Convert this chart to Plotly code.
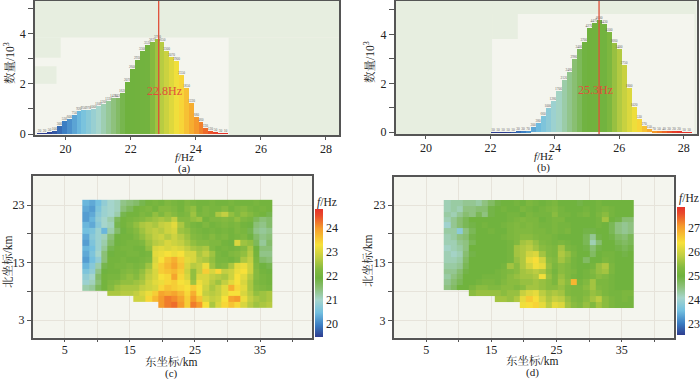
import plotly.graph_objects as go

W, H = 700, 379
N = None

# ---------- histograms (counts in 10^3) ----------
a_start, a_width = 19.21, 0.15
a_counts = [.02,.02,.05,.1,.3,.53,.6,.75,.92,.95,.97,1.0,1.1,1.2,1.33,1.42,1.42,1.62,2.07,2.6,
            2.93,3.3,3.53,3.67,3.78,3.65,3.3,3.07,2.9,2.35,1.85,1.22,.68,.46,.22,.12,.05,.03,.01]
b_start, b_width = 22.09, 0.156
b_counts = [.01,.01,.01,.01,.01,.03,.03,.07,.2,.38,.66,1.0,1.28,1.7,2.12,2.48,2.98,3.4,3.7,4.27,
            4.47,4.6,4.43,4.1,3.66,3.4,2.75,1.8,1.02,.53,.27,.15,.07,.05,.04,.03,.02,.02,.01,.01]
a_peak, b_peak = 22.86, 25.37
a_cmin, a_cmax = 19.46, 24.8
b_cmin, b_cmax = 22.51, 27.87

# ---------- maps: rows from north to south ----------
map_x = [8.2,9.2,10.1,11.1,12.1,13.0,14.0,15.0,16.0,16.9,17.9,18.9,19.9,20.8,21.8,22.8,23.8,24.7,25.7,26.7,27.7,28.6,29.6,30.6,31.5,32.5,33.5,34.5,35.4,36.4]
map_y = [23.4,22.4,21.4,20.5,19.5,18.5,17.5,16.5,15.5,14.5,13.5,12.5,11.5,10.6,9.6,8.7,7.7,6.7,5.7]

c_z = [
[20.4,20.3,20.5,20.8,21.0,21.1,21.4,21.5,21.6,21.8,22.0,22.1,22.0,22.2,22.1,22.0,22.2,22.1,22.0,22.0,22.1,22.0,22.0,22.1,22.0,22.0,22.0,22.1,22.0,22.0],
[20.3,20.2,20.6,20.9,21.0,21.1,21.5,21.7,22.0,22.1,22.2,22.0,22.3,22.3,22.2,22.0,22.3,22.4,22.0,22.2,22.1,22.1,22.3,22.0,22.2,22.3,22.1,22.0,22.1,22.0],
[20.2,20.3,20.7,20.9,21.0,21.2,21.8,22.0,22.0,22.2,22.1,22.4,22.2,22.4,22.3,22.1,22.2,22.5,22.1,22.2,22.1,22.6,22.8,22.4,22.2,22.4,22.3,22.1,22.0,21.8],
[20.2,20.4,20.8,21.0,21.2,21.7,22.0,22.1,22.2,22.3,22.4,22.5,22.6,22.5,22.8,22.3,22.3,22.4,22.5,22.0,22.2,22.2,22.3,22.2,22.4,22.2,22.1,21.7,21.5,21.6],
[20.4,20.3,20.7,21.0,21.1,21.8,22.0,22.2,22.4,22.6,22.7,22.6,22.8,22.9,23.1,22.6,22.3,22.1,22.0,22.2,22.0,22.1,22.2,22.1,22.2,22.0,21.9,21.5,21.4,21.6],
[20.5,20.6,20.9,20.4,21.2,21.6,21.9,22.1,22.3,22.5,22.7,22.8,22.7,22.9,23.0,22.5,22.4,22.2,22.1,22.0,22.1,22.0,22.1,22.0,22.2,22.1,21.8,21.4,21.3,21.4],
[20.3,20.7,20.9,21.1,21.5,21.9,22.0,22.0,22.2,22.4,22.6,22.8,22.9,22.7,22.9,22.7,22.5,22.3,22.2,22.1,22.3,22.1,22.2,22.0,22.1,22.2,21.9,21.6,21.4,21.5],
[20.2,20.6,20.9,21.2,21.6,21.9,22.0,22.1,22.1,22.2,22.5,22.7,22.8,23.0,22.9,22.8,22.6,22.4,22.3,22.3,22.2,22.2,22.0,21.9,23.0,22.5,22.4,21.7,21.3,21.6],
[20.4,20.5,20.9,21.3,21.8,22.0,22.1,22.1,22.0,22.0,22.4,23.0,23.1,23.0,23.1,23.0,22.8,22.6,22.5,22.6,22.2,22.0,22.1,22.0,22.1,22.3,22.6,21.9,21.5,21.5],
[20.3,20.6,21.0,21.5,21.9,22.0,22.0,22.1,22.1,22.0,22.1,23.1,23.2,23.3,23.2,23.3,23.0,23.0,22.6,22.8,22.5,22.1,22.0,22.2,22.3,22.4,22.7,22.0,21.4,21.4],
[20.2,20.5,20.8,21.5,22.0,22.0,22.1,22.0,22.0,22.1,22.2,23.0,23.3,23.6,23.8,23.5,23.1,23.0,22.7,22.6,22.4,22.1,22.1,22.0,22.2,22.6,22.8,22.1,21.6,21.5],
[20.4,20.7,21.2,21.8,22.0,22.1,22.1,22.2,22.1,22.2,22.5,23.1,23.5,23.7,23.9,23.6,23.0,22.7,22.8,23.2,22.5,22.2,22.3,22.6,23.1,23.2,22.9,22.2,21.9,21.8],
[20.6,20.8,21.4,21.9,22.0,22.0,22.2,22.3,22.2,22.4,22.7,23.0,23.5,23.6,23.7,23.5,22.9,22.4,22.8,23.5,23.0,23.4,22.8,22.9,23.2,23.3,22.9,22.3,22.0,21.9],
[20.8,21.0,21.6,22.0,22.1,22.1,22.3,22.4,22.3,22.5,22.8,23.0,23.3,23.4,23.9,23.4,23.0,22.4,23.0,23.0,22.8,22.7,22.6,22.9,23.3,23.1,22.7,22.3,22.1,22.0],
[20.9,21.1,21.5,22.0,22.2,22.3,22.4,22.4,22.5,22.6,22.9,23.1,23.2,23.4,23.5,23.3,23.2,22.5,23.2,23.0,22.7,22.5,22.8,23.1,23.3,23.0,22.6,22.2,22.1,22.0],
[21.2,21.3,21.7,22.0,22.3,22.5,22.6,22.6,22.6,22.8,22.9,23.0,23.4,23.6,23.5,23.4,23.3,23.5,23.3,22.9,22.6,22.8,23.1,23.8,23.4,23.1,22.6,22.3,22.2,22.1],
[N,N,N,N,22.6,22.6,22.7,22.7,22.8,23.0,23.2,23.5,23.9,23.8,23.9,23.7,23.4,23.8,23.3,22.8,22.7,22.8,23.1,23.3,23.3,23.0,22.7,22.4,22.5,22.6],
[N,N,N,N,N,N,N,N,22.9,22.9,23.4,23.7,24.0,24.2,24.1,23.9,23.5,24.0,23.6,23.0,22.8,22.9,23.3,23.9,24.0,23.2,22.8,22.6,22.5,22.6],
[N,N,N,N,N,N,N,N,N,N,N,N,24.0,24.2,24.3,24.0,23.5,24.2,24.0,23.3,22.6,23.0,23.4,23.6,23.4,23.0,22.7,22.5,22.6,22.7],
]

d_z = [
[24.2,24.3,24.3,24.4,24.4,24.3,24.5,24.7,24.9,25.0,25.0,25.1,25.0,25.2,25.1,25.0,25.1,25.2,25.0,25.0,25.0,24.9,25.0,25.0,25.1,25.0,25.0,25.0,25.0,25.0],
[24.2,24.3,24.2,24.5,24.5,24.6,24.6,24.9,25.0,25.1,25.0,25.0,25.2,25.1,25.0,25.1,25.2,25.3,25.1,25.0,25.0,25.0,25.1,25.0,25.1,25.2,25.1,25.0,25.0,25.0],
[24.3,24.2,24.4,24.6,24.5,24.8,24.5,24.9,25.0,25.0,25.1,25.1,25.0,25.2,25.1,25.1,25.1,25.4,25.1,25.1,25.0,25.1,25.2,25.0,25.2,25.4,25.1,25.0,25.0,25.0],
[24.2,24.4,24.6,24.8,25.0,25.0,25.0,25.0,25.0,25.0,25.1,25.2,25.3,25.2,25.2,25.0,25.1,25.2,25.2,25.0,25.0,25.0,25.0,25.0,25.1,25.6,25.0,24.9,24.6,24.6],
[24.0,24.4,24.6,24.8,24.9,25.0,25.1,25.0,25.0,25.1,25.2,25.3,25.2,25.3,25.2,25.1,25.1,25.2,25.1,25.1,25.0,25.0,25.0,25.0,25.1,25.0,24.8,24.5,24.4,24.5],
[24.3,24.3,23.8,24.5,24.8,25.0,25.0,25.1,25.0,25.0,25.2,25.3,25.3,25.3,25.2,25.2,25.1,25.2,25.1,25.2,25.0,25.0,24.9,24.9,25.0,25.0,24.8,24.5,24.4,24.5],
[24.2,24.3,24.5,24.6,24.9,25.0,25.0,25.0,25.0,25.1,25.2,25.3,25.4,25.4,25.3,25.2,25.2,25.1,25.0,25.0,25.0,25.0,24.8,24.4,24.9,25.0,24.9,24.7,24.6,24.8],
[24.2,24.2,24.4,24.5,24.8,25.0,25.0,25.0,25.0,25.0,25.1,25.3,25.6,25.7,25.5,25.3,25.2,25.1,25.2,25.1,25.0,25.0,24.8,24.2,24.6,25.0,25.0,24.8,24.7,24.8],
[24.1,24.2,24.3,24.5,25.0,25.0,25.0,25.0,25.0,25.0,25.1,25.6,25.7,25.8,25.6,25.4,25.3,25.2,25.6,25.2,25.1,25.0,24.9,24.6,24.9,25.0,25.0,24.9,24.8,24.9],
[24.2,24.1,24.2,24.6,24.9,25.0,25.0,25.0,25.0,25.0,25.1,25.6,25.7,26.0,26.1,25.6,25.3,25.2,25.7,25.5,25.2,25.0,25.0,24.7,25.0,25.1,25.1,25.0,24.9,25.0],
[24.2,24.2,24.3,24.7,25.0,25.0,25.0,25.0,25.0,25.0,25.1,25.5,25.7,26.2,26.4,26.0,25.4,25.3,25.6,25.4,25.1,25.0,24.7,25.0,25.0,25.2,25.1,25.0,25.0,25.0],
[24.3,24.3,24.4,24.8,25.0,25.0,25.0,25.0,25.0,25.1,25.6,25.4,25.7,26.0,26.3,26.2,25.5,25.2,25.4,25.3,25.1,25.0,25.0,25.1,25.5,25.7,25.2,25.0,25.0,25.0],
[24.4,24.4,24.6,24.9,25.0,25.0,25.0,25.0,25.1,25.2,25.3,25.4,25.6,25.7,25.8,25.7,25.4,25.1,25.4,25.3,25.2,25.0,25.1,25.3,25.5,25.6,25.2,25.0,25.0,25.0],
[24.3,24.5,24.7,25.0,25.0,25.0,25.1,25.1,25.1,25.2,25.4,25.5,25.6,25.6,25.7,26.3,25.5,25.2,25.5,25.3,25.1,25.0,25.1,25.2,25.4,25.3,25.1,25.0,25.0,25.0],
[24.4,24.6,24.8,25.0,25.0,25.1,25.2,25.2,25.1,25.3,25.4,25.4,25.5,25.5,25.6,25.5,25.4,25.2,25.6,25.4,26.8,25.1,25.3,25.6,25.2,25.2,25.1,25.0,25.0,25.0],
[24.5,24.7,25.0,25.0,25.2,25.4,25.4,25.3,25.3,25.4,25.4,25.3,25.4,25.6,25.6,25.5,25.4,25.4,25.5,25.3,25.2,25.2,25.4,25.6,25.3,25.2,25.1,25.0,25.0,25.0],
[N,N,N,N,25.4,25.5,25.5,25.5,25.5,25.4,25.5,25.5,25.9,26.1,26.2,25.8,25.6,25.7,25.6,25.3,25.2,25.2,25.3,25.5,25.4,25.2,25.1,25.1,25.2,25.2],
[N,N,N,N,N,N,N,N,25.6,25.6,25.5,25.7,26.2,26.6,26.4,26.0,25.7,25.9,25.8,25.5,25.3,25.2,25.4,25.6,25.8,25.4,25.2,25.1,25.2,25.1],
[N,N,N,N,N,N,N,N,N,N,N,N,26.3,26.4,26.5,26.2,25.8,26.2,26.1,25.6,25.4,25.3,25.5,25.3,25.6,25.4,25.2,25.1,25.1,25.1],
]

# ---------- background regions of the two histograms [x0, x1, y0, y1] ----------
a_green = [[19.06,28.4,3.85,5.3],[25.01,28.4,-0.04,3.85],[19.06,19.85,3.04,3.85],[19.06,19.72,2.0,2.7]]
b_green = [[19.06,28.4,4.83,5.4],[19.06,22.05,-0.07,4.83],[22.05,22.85,3.81,4.83],[28.33,28.4,-0.07,4.83]]

HIST_SCALE = [[0,"#2e3d8f"],[.09,"#3a7cc2"],[.19,"#72bfe0"],[.29,"#a6d5cc"],[.38,"#8cc078"],[.45,"#6fb23e"],[.58,"#73b33f"],
              [.66,"#bccd42"],[.75,"#f7e13a"],[.85,"#f59b2c"],[.95,"#e9492b"],[1,"#e5322a"]]
MAP_SCALE = [[0,"#2e3d8f"],[.09,"#3a7cc2"],[.19,"#72bfe0"],[.29,"#a6d5cc"],[.38,"#8cc078"],[.46,"#6fb23e"],[.53,"#84ba40"],
             [.62,"#c0ce42"],[.72,"#f7e13a"],[.85,"#f59b2c"],[.95,"#e9492b"],[1,"#e5322a"]]
FONT = "Liberation Serif, Noto Serif CJK SC, Noto Sans CJK SC"
AX = "#555555"; GREEN = "#e7eee0"; PAPER = "#f4f5ee"; GRID = "#e6e3da"; RED = "#e0503a"

def dx(a, b): return [a / W, b / W]
def dy(top, bot): return [1 - bot / H, 1 - top / H]

fig = go.Figure()
PANELS = {
 "a": dict(x=(35, 339), y=(1, 135), xr=[19.06, 28.4], yr=[-0.04, 5.3]),
 "b": dict(x=(395.7, 696.7), y=(1, 134), xr=[19.06, 28.4], yr=[-0.07, 5.36]),
 "c": dict(x=(32.7, 312.3), y=(176.3, 337.7), xr=[0.08, 43.03], yr=[-0.02, 27.98]),
 "d": dict(x=(393.7, 673.7), y=(176.7, 337.7), xr=[0.02, 42.98], yr=[-0.02, 27.95]),
}
layout = {}
for i, key in enumerate("abcd", 1):
    p = PANELS[key]
    hist_panel = key in "ab"
    xa = dict(domain=dx(*p["x"]), range=p["xr"], anchor=f"y{i}", showline=True, mirror=True, linecolor=AX, linewidth=1.5,
              ticks="outside", ticklen=3, tickcolor=AX, tickfont=dict(size=12, color="#222"), zeroline=False,
              ticklabelstandoff=-1 if hist_panel else -3,
              showgrid=not hist_panel, gridcolor=GRID, gridwidth=1)
    ya = dict(domain=dy(*p["y"]), range=p["yr"], anchor=f"x{i}", showline=True, mirror=True, linecolor=AX, linewidth=1.5,
              ticks="outside", ticklen=5 if hist_panel else 4, tickcolor=AX, tickfont=dict(size=12, color="#222"), zeroline=False,
              showgrid=not hist_panel, gridcolor=GRID, gridwidth=1)
    if hist_panel:
        xa.update(tickvals=[20, 22, 24, 26, 28])
        ya.update(tickvals=[0, 2, 4], minor=dict(tickvals=[1, 3, 5], ticks="outside", ticklen=5, tickcolor=AX, showgrid=False))
    else:
        xa.update(tickvals=[5, 15, 25, 35], minor=dict(tickvals=[10, 20, 30, 40], ticks="outside", ticklen=3, tickcolor=AX, showgrid=True, gridcolor=GRID))
        ya.update(tickvals=[3, 13, 23], minor=dict(tickvals=[8, 18], ticks="outside", ticklen=4, tickcolor=AX, showgrid=True, gridcolor=GRID))
    s = "" if i == 1 else str(i)
    layout["xaxis" + s] = xa
    layout["yaxis" + s] = ya

def hist(start, width, counts, cmin, cmax, i):
    centers = [start + width * k for k in range(len(counts))]
    fig.add_trace(go.Bar(x=centers, y=counts, width=width, xaxis=f"x{i}", yaxis=f"y{i}", showlegend=False,
                         marker=dict(color=centers, colorscale=HIST_SCALE, cmin=cmin, cmax=cmax, line_width=0),
                         text=[f"{int(v*1000)}" for v in counts], textposition="outside", cliponaxis=False,
                         textfont=dict(size=3.5, color="#666"), constraintext="none", textangle=0))

hist(a_start, a_width, a_counts, a_cmin, a_cmax, 1)
hist(b_start, b_width, b_counts, b_cmin, b_cmax, 2)

def hmap(z, cmin, cmax, i, cbx, cbbot, cblen):
    fig.add_trace(go.Heatmap(x=map_x, y=map_y, z=z, xaxis=f"x{i}", yaxis=f"y{i}", colorscale=MAP_SCALE, zmin=cmin, zmax=cmax,
                             hoverongaps=False,
                             colorbar=dict(x=cbx / W, xanchor="left", y=1 - cbbot / H, yanchor="bottom", len=cblen, lenmode="pixels",
                                           thickness=7.5, thicknessmode="pixels", xpad=0, ypad=0, outlinewidth=0, ticks="",
                                           tickfont=dict(size=12, color="#222"), tick0=0, dtick=1)))

hmap(c_z, 19.46, 24.8, 3, 315, 337, 128)
hmap(d_z, 22.51, 27.87, 4, 677.3, 335, 128.3)

shapes = []
for rects, i in ((a_green, 1), (b_green, 2)):
    for x0, x1, y0, y1 in rects:
        shapes.append(dict(type="rect", xref=f"x{i}", yref=f"y{i}", x0=x0, x1=x1, y0=y0, y1=y1, fillcolor=GREEN, line_width=0, layer="below"))
for peak, i, top in ((a_peak, 1, 5.3), (b_peak, 2, 5.36)):
    shapes.append(dict(type="line", xref=f"x{i}", yref=f"y{i}", x0=peak, x1=peak, y0=0 if i == 1 else -0.07, y1=top, line=dict(color=RED, width=1.3)))

def note(text, px, py, size=11.5, rot=0, color="#222"):
    return dict(text=text, x=px / W, y=1 - py / H, xref="paper", yref="paper", showarrow=False, textangle=rot,
                xanchor="center", yanchor="middle", font=dict(size=size, color=color))

notes = [
    note("<i>f</i>/Hz", 184, 157.5, 11), note("(a)", 184, 168.5, 11),
    note("<i>f</i>/Hz", 543, 156, 11), note("(b)", 543, 167, 11),
    note("东坐标/km", 171, 361), note("(c)", 171, 373, 11),
    note("东坐标/km", 532, 360), note("(d)", 532, 372, 11),
    note("数量/10<sup>3</sup>", 9, 63, rot=-90), note("数量/10<sup>3</sup>", 369, 62, rot=-90),
    note("北坐标/km", 7, 262, rot=-90), note("北坐标/km", 367, 261, rot=-90),
    note("<i>f</i>/Hz", 327, 202), note("<i>f</i>/Hz", 689, 198),
    note("22.8Hz", 164, 91, 12, color=RED), note("25.3Hz", 595, 90, 12, color=RED),
]

fig.update_layout(width=W, height=H, autosize=False, margin=dict(l=0, r=0, t=0, b=0, autoexpand=False), paper_bgcolor="white", plot_bgcolor=PAPER,
                  font=dict(family=FONT, size=12, color="#222"), bargap=0, shapes=shapes, annotations=notes, **layout)
fig.write_html("out.html", post_script="document.body.style.margin='0';document.documentElement.style.overflow='hidden';",
               config=dict(displayModeBar=False))
